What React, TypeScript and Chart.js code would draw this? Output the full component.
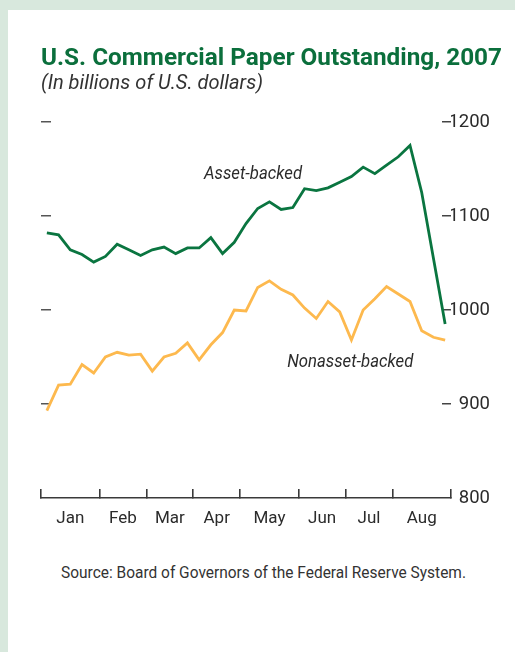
import React, { useEffect, useLayoutEffect, useRef } from "react";
import { Chart, registerables } from "chart.js";

Chart.register(...registerables);

// Weekly observations (Wednesdays), Jan 3 – Aug 29, 2007
const weeks: string[] = [
  "Jan 3", "Jan 10", "Jan 17", "Jan 24", "Jan 31",
  "Feb 7", "Feb 14", "Feb 21", "Feb 28",
  "Mar 7", "Mar 14", "Mar 21", "Mar 28",
  "Apr 4", "Apr 11", "Apr 18", "Apr 25",
  "May 2", "May 9", "May 16", "May 23", "May 30",
  "Jun 6", "Jun 13", "Jun 20", "Jun 27",
  "Jul 4", "Jul 11", "Jul 18", "Jul 25",
  "Aug 1", "Aug 8", "Aug 15", "Aug 22", "Aug 29",
];

const assetBacked: number[] = [
  1082, 1080, 1064, 1059, 1051, 1057, 1070, 1064, 1058, 1064,
  1067, 1060, 1066, 1066, 1077, 1060, 1072, 1092, 1108, 1115,
  1107, 1109, 1129, 1127, 1130, 1136, 1142, 1152, 1145, 1154,
  1163, 1175, 1125, 1055, 985,
];

const nonassetBacked: number[] = [
  893, 920, 921, 942, 933, 950, 955, 952, 953, 935,
  950, 954, 965, 947, 963, 976, 1000, 999, 1024, 1031,
  1022, 1016, 1002, 991, 1009, 998, 968, 1000, 1012, 1025,
  1017, 1009, 978, 971, 968,
];

const months: string[] = ["Jan", "Feb", "Mar", "Apr", "May", "Jun", "Jul", "Aug"];
const weeksPerMonth: number[] = [5, 4, 4, 4, 5, 4, 4, 5];

const yTicks: number[] = [800, 900, 1000, 1100, 1200];

const seriesNames: string[] = ["Asset-backed", "Nonasset-backed"];

const titleText = "U.S. Commercial Paper Outstanding, 2007";
const subtitleText = "(In billions of U.S. dollars)";
const sourceText = "Source: Board of Governors of the Federal Reserve System.";

const GREEN = "#0a7540";
const TITLE_GREEN = "#0b6f3c";
const ORANGE = "#fdb94e";
const TEXT = "#2b2b2b";
const FONT = "Roboto, 'Noto Sans', sans-serif";
const CONDENSE = 0.93;

// month boundary & center positions in week-index units
const boundaries: number[] = [];
const centers: number[] = [];
{
  let start = -0.5;
  boundaries.push(start);
  weeksPerMonth.forEach((n) => {
    centers.push(start + n / 2);
    start += n;
    boundaries.push(start);
  });
}

const labelPlugin = {
  id: "seriesLabels",
  afterDatasetsDraw(chart: any) {
    const { ctx, scales } = chart;
    const x = scales.x;
    const y = scales.y;
    const items = [
      { text: seriesNames[0], xv: 17.6, yv: 1144 },
      { text: seriesNames[1], xv: 25.9, yv: 944 },
    ];
    ctx.save();
    ctx.fillStyle = TEXT;
    ctx.font = `italic 18px ${FONT}`;
    ctx.textAlign = "center";
    ctx.textBaseline = "middle";
    items.forEach((it) => {
      const px = x.getPixelForValue(it.xv);
      const py = y.getPixelForValue(it.yv);
      ctx.save();
      ctx.translate(px, py);
      ctx.scale(CONDENSE, 1);
      ctx.fillText(it.text, 0, 0);
      ctx.restore();
    });
    ctx.restore();
  },
};

function FitText(props: {
  text: string;
  left: number;
  top: number;
  width: number;
  style: React.CSSProperties;
}) {
  const ref = useRef<HTMLSpanElement | null>(null);
  useLayoutEffect(() => {
    const el = ref.current;
    if (!el) return;
    el.style.transform = "none";
    const w = el.getBoundingClientRect().width;
    if (w > 0) el.style.transform = `scaleX(${props.width / w})`;
  }, [props.text, props.width]);
  return (
    <span
      ref={ref}
      style={{
        position: "absolute",
        left: props.left,
        top: props.top,
        display: "inline-block",
        whiteSpace: "nowrap",
        transformOrigin: "left top",
        ...props.style,
      }}
    >
      {props.text}
    </span>
  );
}

function ChartCanvas() {
  const ref = useRef<HTMLCanvasElement | null>(null);
  useEffect(() => {
    if (!ref.current) return;
    const chart = new Chart(ref.current, {
      type: "line",
      data: {
        datasets: [
          {
            label: seriesNames[0],
            data: assetBacked.map((v, i) => ({ x: i, y: v })),
            borderColor: GREEN,
            borderWidth: 2.8,
            pointRadius: 0,
            tension: 0,
            fill: false,
          },
          {
            label: seriesNames[1],
            data: nonassetBacked.map((v, i) => ({ x: i, y: v })),
            borderColor: ORANGE,
            borderWidth: 2.8,
            pointRadius: 0,
            tension: 0,
            fill: false,
          },
        ],
      },
      options: {
        animation: false,
        responsive: false,
        devicePixelRatio: 1,
        layout: { padding: { left: 41, right: 25, top: 122, bottom: 22 } },
        plugins: {
          legend: { display: false },
          tooltip: { enabled: false },
          title: { display: false },
        },
        scales: {
          x: {
            type: "linear",
            position: "bottom",
            min: -0.5,
            max: weeks.length - 0.5,
            bounds: "data",
            afterBuildTicks: (scale: any) => {
              scale.ticks = [...boundaries, ...centers]
                .sort((a, b) => a - b)
                .map((v) => ({ value: v }));
            },
            afterFit: (scale: any) => {
              scale.height = 40;
            },
            border: { display: true, color: "#3a3a3a", width: 1.6 },
            grid: {
              drawOnChartArea: false,
              drawTicks: true,
              tickLength: -9,
              lineWidth: 1.6,
              color: (ctx: any) =>
                ctx.tick && boundaries.includes(ctx.tick.value) ? "#3a3a3a" : "rgba(0,0,0,0)",
            },
            ticks: {
              autoSkip: false,
              maxRotation: 0,
              padding: 20,
              color: TEXT,
              font: { family: FONT, size: 17 },
              callback: (value: any) => {
                const idx = centers.indexOf(Number(value));
                return idx >= 0 ? months[idx] : "";
              },
            },
          },
          y: {
            type: "linear",
            position: "left",
            min: yTicks[0],
            max: yTicks[yTicks.length - 1],
            afterBuildTicks: (scale: any) => {
              scale.ticks = yTicks.slice(1).map((v) => ({ value: v }));
            },
            afterFit: (scale: any) => {
              scale.width = 0;
            },
            border: { display: false },
            grid: {
              drawOnChartArea: false,
              drawTicks: true,
              tickLength: -10,
              lineWidth: 1.5,
              color: "#555",
            },
            ticks: { display: false },
          },
          y2: {
            type: "linear",
            position: "right",
            min: yTicks[0],
            max: yTicks[yTicks.length - 1],
            afterBuildTicks: (scale: any) => {
              scale.ticks = yTicks.map((v) => ({ value: v }));
            },
            afterFit: (scale: any) => {
              scale.width = 39;
            },
            border: { display: false },
            grid: {
              drawOnChartArea: false,
              drawTicks: true,
              tickLength: -9,
              lineWidth: 1.5,
              color: (ctx: any) =>
                ctx.tick && ctx.tick.value === yTicks[0] ? "rgba(0,0,0,0)" : "#444",
            },
            ticks: {
              crossAlign: "far",
              padding: 0,
              color: TEXT,
              font: { family: FONT, size: 18.5 },
              callback: (value: any) => String(value),
            },
          },
        },
      },
      plugins: [labelPlugin],
    });
    return () => chart.destroy();
  }, []);
  return (
    <canvas
      ref={ref}
      width={515}
      height={560}
      style={{ position: "absolute", left: 0, top: 0, width: 515, height: 560 }}
    />
  );
}

export default function App() {
  return (
    <div
      style={{
        position: "fixed",
        left: 0,
        top: 0,
        width: 515,
        height: 652,
        background: "#d8e8dd",
        overflow: "hidden",
      }}
    >
      <div
        style={{
          position: "absolute",
          left: 8,
          top: 10,
          right: 0,
          bottom: 0,
          background: "#ffffff",
        }}
      />
      <ChartCanvas />
      <FitText
        text={titleText}
        left={41}
        top={43}
        width={461}
        style={{
          fontFamily: FONT,
          fontWeight: 700,
          fontSize: 24,
          color: TITLE_GREEN,
          lineHeight: "28px",
        }}
      />
      <FitText
        text={subtitleText}
        left={41}
        top={70}
        width={222}
        style={{
          fontFamily: FONT,
          fontStyle: "italic",
          fontSize: 21,
          color: "#333",
          lineHeight: "25px",
        }}
      />
      <FitText
        text={sourceText}
        left={61}
        top={563}
        width={405}
        style={{
          fontFamily: FONT,
          fontSize: 16.5,
          color: "#333",
          lineHeight: "20px",
        }}
      />
    </div>
  );
}
